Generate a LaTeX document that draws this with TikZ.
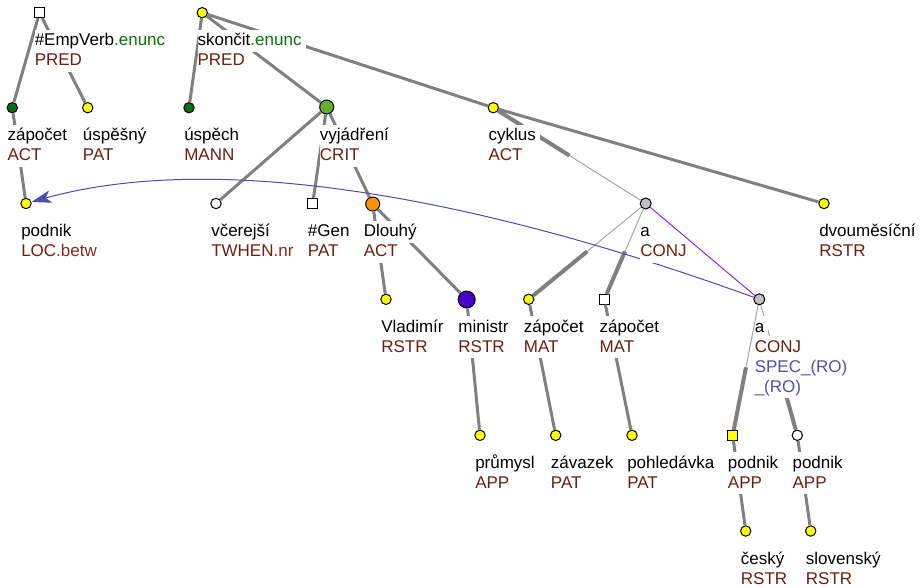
\documentclass[tikz,border=0pt]{standalone}
\usepackage{fontspec}
\setmainfont{Liberation Sans}
\usetikzlibrary{calc,arrows.meta}
\definecolor{fun}{RGB}{110,30,15}
\definecolor{sfx}{RGB}{140,40,35}
\definecolor{enc}{RGB}{10,115,10}
\definecolor{spec}{RGB}{80,80,176}
\definecolor{edgegray}{RGB}{128,128,128}
\definecolor{thingray}{RGB}{165,165,165}
\definecolor{purp}{RGB}{140,40,230}
\definecolor{corefc}{RGB}{76,76,172}
\definecolor{yel}{RGB}{255,255,0}
\definecolor{dgreen}{RGB}{10,110,10}
\definecolor{lgreen}{RGB}{100,175,50}
\definecolor{orng}{RGB}{255,150,0}
\definecolor{vio}{RGB}{72,0,204}
\definecolor{gry}{RGB}{192,192,192}
\begin{document}
\begin{tikzpicture}[x=0.75pt,y=-0.75pt,
  base/.style={draw=black,line width=0.75pt,inner sep=0pt},
  yc/.style={base,circle,minimum size=7.8pt,fill=yel},
  wc/.style={base,circle,minimum size=7.8pt,fill=white},
  gc/.style={base,circle,minimum size=7.8pt,fill=dgreen},
  lgc/.style={base,circle,minimum size=10.5pt,fill=lgreen},
  oc/.style={base,circle,minimum size=10.5pt,fill=orng},
  vc/.style={base,circle,minimum size=12.75pt,fill=vio},
  cc/.style={base,circle,minimum size=8.25pt,fill=gry},
  sq/.style={base,rectangle,minimum size=7.1pt,fill=white},
  ysq/.style={base,rectangle,minimum size=7.1pt,fill=yel},
  edge/.style={draw=edgegray,line width=2.25pt},
  cthick/.style={draw=edgegray,line width=3pt},
  thinedge/.style={draw=thingray,line width=0.75pt},
  purpedge/.style={draw=purp,line width=0.75pt},
  coref/.style={draw=corefc,line width=0.75pt,-{Stealth[length=15pt,width=9.5pt,inset=4pt]}},
  lab/.style={anchor=base west,fill=white,inner xsep=0pt,inner ysep=0pt,
    text height=12pt,text depth=4.5pt,font=\fontsize{12.75pt}{15pt}\selectfont,
    execute at end node={\kern3pt}},
  fn/.style={lab,text=fun},
  sp/.style={lab,text=spec}
]
\useasboundingbox (0,0) rectangle (922,587);

% tree nodes
\node[sq] (empverb) at (39.5,12.7) {};
\node[yc] (skoncit) at (202.3,12.7) {};
\node[gc] (zapocetA) at (12.3,107.7) {};
\node[yc] (uspesny) at (87.7,107.7) {};
\node[gc] (uspech) at (189,107.7) {};
\node[lgc] (vyjadreni) at (326.7,107) {};
\node[yc] (cyklus) at (493.3,107.7) {};
\node[yc] (podnikL) at (26,203.5) {};
\node[wc] (vcerejsi) at (216,203.5) {};
\node[sq] (gen) at (312.7,203.5) {};
\node[oc] (dlouhy) at (372.7,204) {};
\node[cc] (aA) at (645.7,203.5) {};
\node[yc] (dvoumes) at (824,203.5) {};
\node[yc] (vladimir) at (386,299.3) {};
\node[vc] (ministr) at (466.7,299.5) {};
\node[yc] (zapocetB) at (528.7,299.3) {};
\node[sq] (zapocetC) at (604.3,299.3) {};
\node[cc] (aB) at (759.3,299.3) {};
\node[yc] (prumysl) at (480,435.3) {};
\node[yc] (zavazek) at (555.7,435.3) {};
\node[yc] (pohledavka) at (632,435.3) {};
\node[ysq] (podnikA) at (732.7,435.3) {};
\node[wc] (podnikB) at (797.3,435.3) {};
\node[yc] (cesky) at (745.7,531) {};
\node[yc] (slovensky) at (810.7,531) {};

% midpoints of coordination edges
\coordinate (m1) at ($(cyklus)!0.5!(aA)$);
\coordinate (m2) at ($(aA)!0.5!(zapocetB)$);
\coordinate (m3) at ($(aA)!0.5!(zapocetC)$);
\coordinate (m4) at ($(aB)!0.5!(podnikA)$);
\coordinate (m5) at ($(aB)!0.5!(podnikB)$);

% ordinary edges
\draw[edge] (empverb) -- (zapocetA);
\draw[edge] (empverb) -- (uspesny);
\draw[edge] (zapocetA) -- (podnikL);
\draw[edge] (skoncit) -- (uspech);
\draw[edge] (skoncit) -- (vyjadreni);
\draw[edge] (skoncit) -- (cyklus);
\draw[edge] (cyklus) -- (dvoumes);
\draw[edge] (vyjadreni) -- (vcerejsi);
\draw[edge] (vyjadreni) -- (gen);
\draw[edge] (vyjadreni) -- (dlouhy);
\draw[edge] (dlouhy) -- (vladimir);
\draw[edge] (dlouhy) -- (ministr);
\draw[edge] (ministr) -- (prumysl);
\draw[edge] (zapocetB) -- (zavazek);
\draw[edge] (zapocetC) -- (pohledavka);
\draw[edge] (podnikA) -- (cesky);
\draw[edge] (podnikB) -- (slovensky);

% coordination edges
\draw[cthick] (cyklus) -- (m1);
\draw[thinedge] (m1) -- (aA);
\draw[thinedge] (aA) -- (m2);
\draw[cthick] (m2) -- (zapocetB);
\draw[thinedge] (aA) -- (m3);
\draw[cthick] (m3) -- (zapocetC);
\draw[thinedge] (aB) -- (m5);
\draw[cthick] (m5) -- (podnikB);

% coreference arrow
\draw[coref] (aB) .. controls (446.7,186) and (202,154.5) .. (podnikL);

% labels
\node[lab] (t1a) at (34.5,45.7) {\#EmpVerb\textcolor{enc}{.enunc}};
\node[fn]  (t1b) at (34.5,65.7) {PRED};
\node[lab] (t2a) at (197.3,45.7) {skončit\textcolor{enc}{.enunc}};
\node[fn]  (t2b) at (197.3,65.7) {PRED};
\node[lab] (t3a) at (7.3,140.7) {zápočet};
\node[fn]  (t3b) at (7.3,160.7) {ACT};
\node[lab] (t4a) at (82.7,140.7) {úspěšný};
\node[fn]  (t4b) at (82.7,160.7) {PAT};
\node[lab] (t5a) at (184,140.7) {úspěch};
\node[fn]  (t5b) at (184,160.7) {MANN};
\node[lab] (t6a) at (319.7,140.7) {vyjádření};
\node[fn]  (t6b) at (319.7,160.7) {CRIT};
\node[lab] (t7a) at (488.3,140.7) {cyklus};
\node[fn]  (t7b) at (488.3,160.7) {ACT};
\node[lab] (t8a) at (21,236.5) {podnik};
\node[fn]  (t8b) at (21,256.5) {LOC\textcolor{sfx}{.betw}};
\node[lab] (t9a) at (211,236.5) {včerejší};
\node[fn]  (t9b) at (211,256.5) {TWHEN\textcolor{sfx}{.nr}};
\node[lab] (t10a) at (307.7,236.5) {\#Gen};
\node[fn]  (t10b) at (307.7,256.5) {PAT};
\node[lab] (t11a) at (363.5,236.5) {Dlouhý};
\node[fn]  (t11b) at (363.5,256.5) {ACT};
\node[lab] (t12a) at (640.2,236.5) {a};
\node[fn]  (t12b) at (640.2,256.5) {CONJ};
\node[lab] (t13a) at (819,236.5) {dvouměsíční};
\node[fn]  (t13b) at (819,256.5) {RSTR};
\node[lab] (t14a) at (381,332.3) {Vladimír};
\node[fn]  (t14b) at (381,352.3) {RSTR};
\node[lab] (t15a) at (458.2,332.3) {ministr};
\node[fn]  (t15b) at (458.2,352.3) {RSTR};
\node[lab] (t16a) at (523.7,332.3) {zápočet};
\node[fn]  (t16b) at (523.7,352.3) {MAT};
\node[lab] (t17a) at (599.3,332.3) {zápočet};
\node[fn]  (t17b) at (599.3,352.3) {MAT};
\node[lab] (t18a) at (754.5,332.3) {a};
\node[fn]  (t18b) at (754.5,352.3) {CONJ};
\node[sp]  (t18c) at (754.5,372.3) {SPEC\_(RO)};
\node[sp]  (t18d) at (754.5,392.3) {\_(RO)};
\node[lab] (t19a) at (475,468.3) {průmysl};
\node[fn]  (t19b) at (475,488.3) {APP};
\node[lab] (t20a) at (550.7,468.3) {závazek};
\node[fn]  (t20b) at (550.7,488.3) {PAT};
\node[lab] (t21a) at (627,468.3) {pohledávka};
\node[fn]  (t21b) at (627,488.3) {PAT};
\node[lab] (t22a) at (727.7,468.3) {podnik};
\node[fn]  (t22b) at (727.7,488.3) {APP};
\node[lab] (t23a) at (792.3,468.3) {podnik};
\node[fn]  (t23b) at (792.3,488.3) {APP};
\node[lab] (t24a) at (740.7,564) {český};
\node[fn]  (t24b) at (740.7,584) {RSTR};
\node[lab] (t25a) at (805.7,564) {slovenský};
\node[fn]  (t25b) at (805.7,584) {RSTR};

% edges that pass beside labels
\draw[purpedge] (aA) -- (aB);
\draw[thinedge] (aB) -- (m4);
\draw[cthick] (m4) -- (podnikA);
\end{tikzpicture}
\end{document}
